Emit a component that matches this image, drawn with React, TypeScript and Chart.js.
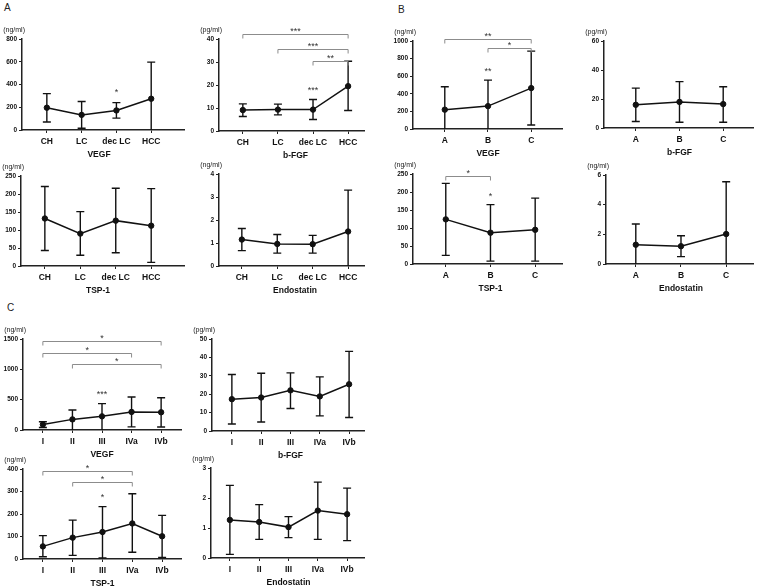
import React, { useEffect, useRef } from "react";
import { Chart, registerables } from "chart.js";

Chart.register(...registerables);

const FONT = "'Liberation Sans', Arial, Helvetica, sans-serif";

// ---------- categories ----------
const catsA = ["CH", "LC", "dec LC", "HCC"];
const catsB = ["A", "B", "C"];
const catsC = ["I", "II", "III", "IVa", "IVb"];

// ---------- panel A ----------
const aVegfMean = [196, 133, 172, 275];
const aVegfLow = [70, 15, 104, 0];
const aVegfHigh = [320, 250, 241, 597];

const aFgfMean = [9.1, 9.3, 9.3, 19.5];
const aFgfLow = [6.3, 7.0, 5.0, 8.9];
const aFgfHigh = [11.8, 11.7, 13.7, 30.3];

const aTspMean = [132, 90, 126, 112];
const aTspLow = [43, 30, 37, 10];
const aTspHigh = [221, 151, 216, 215];

const aEndoMean = [1.15, 0.96, 0.95, 1.5];
const aEndoLow = [0.67, 0.56, 0.56, 0];
const aEndoHigh = [1.63, 1.37, 1.33, 3.3];

// ---------- panel B ----------
const bVegfMean = [220, 260, 465];
const bVegfLow = [0, 0, 45];
const bVegfHigh = [480, 555, 885];

const bFgfMean = [16, 18, 16.5];
const bFgfLow = [4.5, 4, 4];
const bFgfHigh = [27.5, 32, 28.5];

const bTspMean = [124, 87, 95];
const bTspLow = [24, 8, 8];
const bTspHigh = [224, 165, 183];

const bEndoMean = [1.3, 1.2, 2.02];
const bEndoLow = [0, 0.5, 0];
const bEndoHigh = [2.7, 1.9, 5.55];

// ---------- panel C ----------
const cVegfMean = [90, 175, 225, 298, 292];
const cVegfLow = [42, 0, 0, 52, 50];
const cVegfHigh = [135, 330, 435, 545, 532];

const cFgfMean = [17.3, 18.2, 22.1, 18.8, 25.4];
const cFgfLow = [3.8, 4.9, 12.2, 8.2, 7.3];
const cFgfHigh = [30.7, 31.4, 31.6, 29.4, 43.3];

const cTspMean = [56, 95, 120, 158, 101];
const cTspLow = [10, 16, 5, 30, 7];
const cTspHigh = [104, 173, 233, 290, 194];

const cEndoMean = [1.27, 1.2, 1.03, 1.58, 1.46];
const cEndoLow = [0.12, 0.62, 0.68, 0.62, 0.58];
const cEndoHigh = [2.42, 1.78, 1.38, 2.53, 2.33];

// ---------- significance ----------
type Bracket = { from: number; to: number; at: number; label: string };
type Mark = { idx: number; at: number; label: string };

const aVegfMarks: Mark[] = [{ idx: 2, at: 353, label: "*" }];
const aFgfMarks: Mark[] = [{ idx: 2, at: 18.6, label: "***" }];
const aFgfBrackets: Bracket[] = [
  { from: 0, to: 3, at: 42.3, label: "***" },
  { from: 1, to: 3, at: 35.6, label: "***" },
  { from: 2, to: 3, at: 30.3, label: "**" },
];
const bVegfMarks: Mark[] = [{ idx: 1, at: 686, label: "**" }];
const bVegfBrackets: Bracket[] = [
  { from: 0, to: 2, at: 1026, label: "**" },
  { from: 1, to: 2, at: 920, label: "*" },
];
const bTspMarks: Mark[] = [{ idx: 1, at: 196, label: "*" }];
const bTspBrackets: Bracket[] = [{ from: 0, to: 1, at: 243.5, label: "*" }];
const cVegfMarks: Mark[] = [{ idx: 2, at: 634, label: "***" }];
const cVegfBrackets: Bracket[] = [
  { from: 0, to: 4, at: 1461, label: "*" },
  { from: 0, to: 3, at: 1268, label: "*" },
  { from: 1, to: 4, at: 1092, label: "*" },
];
const cTspMarks: Mark[] = [{ idx: 2, at: 284, label: "*" }];
const cTspBrackets: Bracket[] = [
  { from: 0, to: 3, at: 391, label: "*" },
  { from: 1, to: 3, at: 344, label: "*" },
];

type Box = { axisX: number; axisEnd: number; yTop: number; yBottom: number; firstX: number; lastX: number };
type Spec = {
  cats: string[];
  mean: number[];
  low: number[];
  high: number[];
  yMax: number;
  yStep: number;
  unit: string;
  title: string;
  brackets: Bracket[];
  marks: Mark[];
  box: Box;
};

const L = 40;
const T = 44;
const R = 4;
const B = 40;

function Panel({ spec }: { spec: Spec }) {
  const ref = useRef<HTMLCanvasElement>(null);
  const { box } = spec;
  const w = box.axisEnd - box.axisX + L + R;
  const h = box.yBottom - box.yTop + T + B;

  useEffect(() => {
    const n = spec.cats.length;
    const spacing = (box.lastX - box.firstX) / (n - 1);
    const xMin = 1 - (box.firstX - box.axisX) / spacing;
    const xMax = n + (box.axisEnd - box.lastX) / spacing;

    const decor = {
      id: "decor",
      beforeDatasetsDraw(chart: any) {
        const ctx = chart.ctx;
        const xs = chart.scales.x;
        const ys = chart.scales.y;
        ctx.save();
        ctx.strokeStyle = "#111";
        ctx.lineWidth = 1.4;
        spec.mean.forEach((_, i) => {
          const x = xs.getPixelForValue(i + 1);
          const yh = ys.getPixelForValue(spec.high[i]);
          const yl = ys.getPixelForValue(spec.low[i]);
          ctx.beginPath();
          ctx.moveTo(x, yl);
          ctx.lineTo(x, yh);
          ctx.moveTo(x - 4, yh);
          ctx.lineTo(x + 4, yh);
          if (spec.low[i] > 0) {
            ctx.moveTo(x - 4, yl);
            ctx.lineTo(x + 4, yl);
          }
          ctx.stroke();
        });
        ctx.restore();
      },
      afterDraw(chart: any) {
        const ctx = chart.ctx;
        const ca = chart.chartArea;
        const xs = chart.scales.x;
        const ys = chart.scales.y;
        ctx.save();
        // unit
        ctx.fillStyle = "#222";
        ctx.font = `7px ${FONT}`;
        ctx.textAlign = "right";
        ctx.textBaseline = "middle";
        ctx.fillText(spec.unit, ca.left + 3, ca.top - 9);
        // title
        ctx.font = `bold 8.5px ${FONT}`;
        ctx.textAlign = "center";
        ctx.fillStyle = "#111";
        const cx = (xs.getPixelForValue(1) + xs.getPixelForValue(n)) / 2;
        ctx.fillText(spec.title, cx, ca.bottom + 25);
        // brackets
        ctx.strokeStyle = "#8c8c8c";
        ctx.lineWidth = 1;
        ctx.textBaseline = "alphabetic";
        ctx.font = `9px ${FONT}`;
        ctx.fillStyle = "#333";
        spec.brackets.forEach((b) => {
          const x1 = xs.getPixelForValue(b.from + 1);
          const x2 = xs.getPixelForValue(b.to + 1);
          const y = Math.round(ys.getPixelForValue(b.at)) + 0.5;
          ctx.beginPath();
          ctx.moveTo(x1, y + 4);
          ctx.lineTo(x1, y);
          ctx.lineTo(x2, y);
          ctx.lineTo(x2, y + 4);
          ctx.stroke();
          ctx.fillText(b.label, (x1 + x2) / 2, y - 0.5);
        });
        spec.marks.forEach((m) => {
          const x = xs.getPixelForValue(m.idx + 1);
          const y = ys.getPixelForValue(m.at);
          ctx.fillText(m.label, x, y + 5.2);
        });
        ctx.restore();
      },
    };

    const chart = new Chart(ref.current as HTMLCanvasElement, {
      type: "line",
      data: {
        datasets: [
          {
            data: spec.mean.map((v, i) => ({ x: i + 1, y: v })),
            borderColor: "#111",
            borderWidth: 1.5,
            pointRadius: 2.7,
            pointBackgroundColor: "#111",
            pointBorderColor: "#111",
            pointBorderWidth: 1,
            tension: 0,
          },
        ],
      },
      options: {
        responsive: false,
        animation: false,
        events: [],
        layout: { padding: { top: T, right: R, left: 0, bottom: 0 } },
        plugins: { legend: { display: false }, tooltip: { enabled: false } },
        scales: {
          x: {
            type: "linear",
            min: xMin,
            max: xMax,
            afterBuildTicks: (s: any) => {
              s.ticks = spec.cats.map((_, i) => ({ value: i + 1 }));
            },
            afterFit: (s: any) => {
              s.height = B;
            },
            ticks: {
              autoSkip: false,
              maxRotation: 0,
              padding: 4,
              color: "#111",
              font: { family: FONT, size: 8.5, weight: "bold" },
              callback: (_v: any, i: number) => spec.cats[i],
            },
            grid: { display: true, drawOnChartArea: false, drawTicks: true, tickLength: 3, color: "#222", lineWidth: 1 },
            border: { display: true, color: "#222", width: 1.5 },
          },
          y: {
            type: "linear",
            min: 0,
            max: spec.yMax,
            afterFit: (s: any) => {
              s.width = L;
            },
            ticks: {
              stepSize: spec.yStep,
              padding: 2,
              color: "#111",
              font: { family: FONT, size: 6.5, weight: "bold" },
              callback: (v: any) => String(v),
            },
            grid: { display: true, drawOnChartArea: false, drawTicks: true, tickLength: 3, color: "#222", lineWidth: 1 },
            border: { display: true, color: "#222", width: 1.5 },
          },
        },
      } as any,
      plugins: [decor],
    });
    return () => chart.destroy();
  }, []);

  return (
    <canvas
      ref={ref}
      width={w}
      height={h}
      style={{ position: "absolute", left: box.axisX - L, top: box.yTop - T, width: w, height: h }}
    />
  );
}

const specs: Spec[] = [
  {
    cats: catsA, mean: aVegfMean, low: aVegfLow, high: aVegfHigh, yMax: 800, yStep: 200,
    unit: "(ng/ml)", title: "VEGF", brackets: [], marks: aVegfMarks,
    box: { axisX: 22, axisEnd: 185, yTop: 39, yBottom: 130, firstX: 47, lastX: 152 },
  },
  {
    cats: catsA, mean: aFgfMean, low: aFgfLow, high: aFgfHigh, yMax: 40, yStep: 10,
    unit: "(pg/ml)", title: "b-FGF", brackets: aFgfBrackets, marks: aFgfMarks,
    box: { axisX: 219, axisEnd: 365, yTop: 39, yBottom: 131, firstX: 243, lastX: 349 },
  },
  {
    cats: catsA, mean: aTspMean, low: aTspLow, high: aTspHigh, yMax: 250, yStep: 50,
    unit: "(ng/ml)", title: "TSP-1", brackets: [], marks: [],
    box: { axisX: 21, axisEnd: 185, yTop: 176, yBottom: 266, firstX: 45, lastX: 152 },
  },
  {
    cats: catsA, mean: aEndoMean, low: aEndoLow, high: aEndoHigh, yMax: 4, yStep: 1,
    unit: "(ng/ml)", title: "Endostatin", brackets: [], marks: [],
    box: { axisX: 219, axisEnd: 365, yTop: 174, yBottom: 266, firstX: 242, lastX: 349 },
  },
  {
    cats: catsB, mean: bVegfMean, low: bVegfLow, high: bVegfHigh, yMax: 1000, yStep: 200,
    unit: "(ng/ml)", title: "VEGF", brackets: bVegfBrackets, marks: bVegfMarks,
    box: { axisX: 413, axisEnd: 563, yTop: 41, yBottom: 129, firstX: 445, lastX: 532 },
  },
  {
    cats: catsB, mean: bFgfMean, low: bFgfLow, high: bFgfHigh, yMax: 60, yStep: 20,
    unit: "(pg/ml)", title: "b-FGF", brackets: [], marks: [],
    box: { axisX: 604, axisEnd: 754, yTop: 41, yBottom: 128, firstX: 636, lastX: 724 },
  },
  {
    cats: catsB, mean: bTspMean, low: bTspLow, high: bTspHigh, yMax: 250, yStep: 50,
    unit: "(ng/ml)", title: "TSP-1", brackets: bTspBrackets, marks: bTspMarks,
    box: { axisX: 413, axisEnd: 563, yTop: 174, yBottom: 264, firstX: 446, lastX: 536 },
  },
  {
    cats: catsB, mean: bEndoMean, low: bEndoLow, high: bEndoHigh, yMax: 6, yStep: 2,
    unit: "(ng/ml)", title: "Endostatin", brackets: [], marks: [],
    box: { axisX: 606, axisEnd: 754, yTop: 175, yBottom: 264, firstX: 636, lastX: 727 },
  },
  {
    cats: catsC, mean: cVegfMean, low: cVegfLow, high: cVegfHigh, yMax: 1500, yStep: 500,
    unit: "(ng/ml)", title: "VEGF", brackets: cVegfBrackets, marks: cVegfMarks,
    box: { axisX: 23, axisEnd: 182, yTop: 339, yBottom: 430, firstX: 43, lastX: 162 },
  },
  {
    cats: catsC, mean: cFgfMean, low: cFgfLow, high: cFgfHigh, yMax: 50, yStep: 10,
    unit: "(pg/ml)", title: "b-FGF", brackets: [], marks: [],
    box: { axisX: 212, axisEnd: 365, yTop: 339, yBottom: 431, firstX: 232, lastX: 350 },
  },
  {
    cats: catsC, mean: cTspMean, low: cTspLow, high: cTspHigh, yMax: 400, yStep: 100,
    unit: "(ng/ml)", title: "TSP-1", brackets: cTspBrackets, marks: cTspMarks,
    box: { axisX: 23, axisEnd: 182, yTop: 469, yBottom: 559, firstX: 43, lastX: 163 },
  },
  {
    cats: catsC, mean: cEndoMean, low: cEndoLow, high: cEndoHigh, yMax: 3, yStep: 1,
    unit: "(ng/ml)", title: "Endostatin", brackets: [], marks: [],
    box: { axisX: 211, axisEnd: 365, yTop: 468, yBottom: 558, firstX: 230, lastX: 348 },
  },
];

const letterStyle: React.CSSProperties = {
  position: "absolute",
  fontFamily: FONT,
  fontSize: 10,
  lineHeight: "10px",
  color: "#222",
};

export default function App() {
  return (
    <div
      style={{
        position: "absolute",
        left: 0,
        top: 0,
        width: 758,
        height: 588,
        overflow: "hidden",
        background: "#fff",
      }}
    >
      <div style={{ ...letterStyle, left: 4, top: 3 }}>A</div>
      <div style={{ ...letterStyle, left: 398, top: 5 }}>B</div>
      <div style={{ ...letterStyle, left: 7, top: 303 }}>C</div>
      {specs.map((s, i) => (
        <Panel key={i} spec={s} />
      ))}
    </div>
  );
}
